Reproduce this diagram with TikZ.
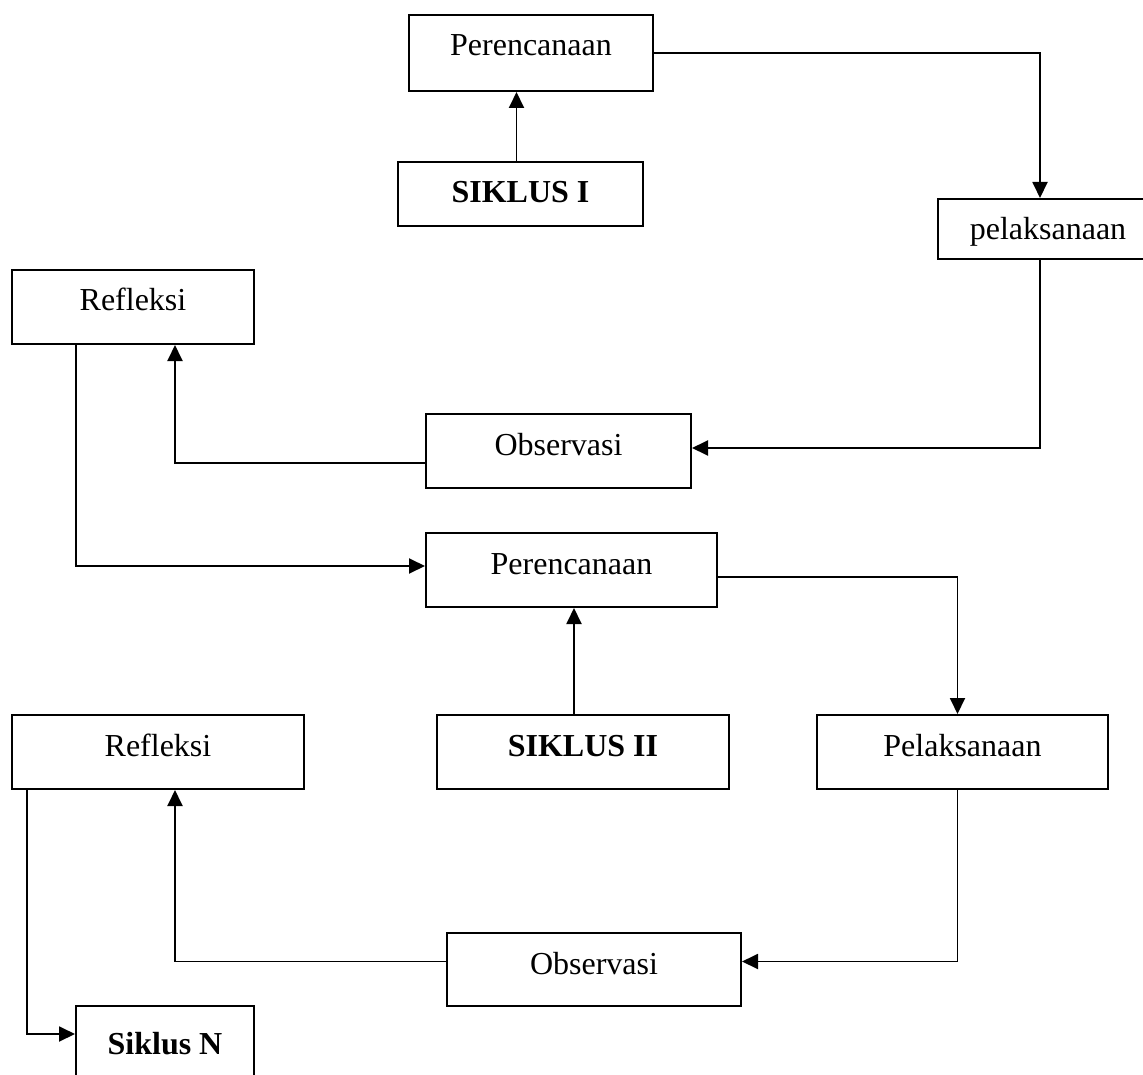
\documentclass[tikz,border=0pt]{standalone}
\usepackage{fontspec}
\setmainfont{Liberation Serif}
\usetikzlibrary{arrows.meta, positioning, calc}

\begin{document}
\begin{tikzpicture}[x=1pt, y=-1pt,
    box/.style={rectangle, draw, line width=2pt, anchor=north west, inner sep=0pt,
        text height=41pt, text depth=#1, font=\fontsize{32}{38}\selectfont},
    box/.default=33pt,
    arr/.style={line width=1.9pt, -{Triangle[length=16pt, width=15pt]}}]
    \useasboundingbox (0,0) rectangle (1143,1075);
    \clip (0,0) rectangle (1143,1075);

    \node[box=35pt, minimum width=244pt] (per1) at (408,14) {Perencanaan};
    \node[box=23pt, minimum width=245pt] (sik1) at (397,161) {\bfseries SIKLUS I};
    \node[box=19pt, minimum width=220pt] (pel1) at (937,198) {pelaksanaan};
    \node[box, minimum width=242pt] (ref1) at (11,269) {Refleksi};
    \node[box, minimum width=265pt] (obs1) at (425,413) {Observasi};
    \node[box, minimum width=291pt] (per2) at (425,532) {Perencanaan};
    \node[box, minimum width=292pt] (sik2) at (436,714) {\bfseries SIKLUS II};
    \node[box, minimum width=291pt] (pel2) at (816,714) {Pelaksanaan};
    \node[box, minimum width=292pt] (ref2) at (11,714) {Refleksi};
    \node[box=32pt, minimum width=294pt] (obs2) at (446,932) {Observasi};
    \node[box=35pt, minimum width=178pt, text height=48pt, text depth=28pt] (sikN) at (75,1005) {\bfseries Siklus N};

    \draw[arr] ([xshift=-4pt]sik1.north) -- ([xshift=-4pt]sik1.north |- per1.south);
    \draw[arr] (per1.east) -| ([xshift=-8pt]pel1.north);
    \draw[arr] ([xshift=-8pt]pel1.south) |- ([yshift=3pt]obs1.east);
    \draw[arr] ([yshift=-12pt]obs1.west) -| ([xshift=42pt]ref1.south);
    \draw[arr] ([xshift=-57pt]ref1.south) |- ([yshift=4pt]per2.west);
    \draw[arr] ([xshift=-9pt]sik2.north) -- ([xshift=-9pt]sik2.north |- per2.south);
    \draw[arr] ([yshift=-7pt]per2.east) -| ([xshift=-5pt]pel2.north);
    \draw[arr] ([xshift=-5pt]pel2.south) |- ([yshift=8pt]obs2.east);
    \draw[arr] ([yshift=8pt]obs2.west) -| ([xshift=17pt]ref2.south);
    \draw[arr] ([xshift=-131pt]ref2.south) |- ([yshift=10pt]sikN.west);
\end{tikzpicture}
\end{document}
